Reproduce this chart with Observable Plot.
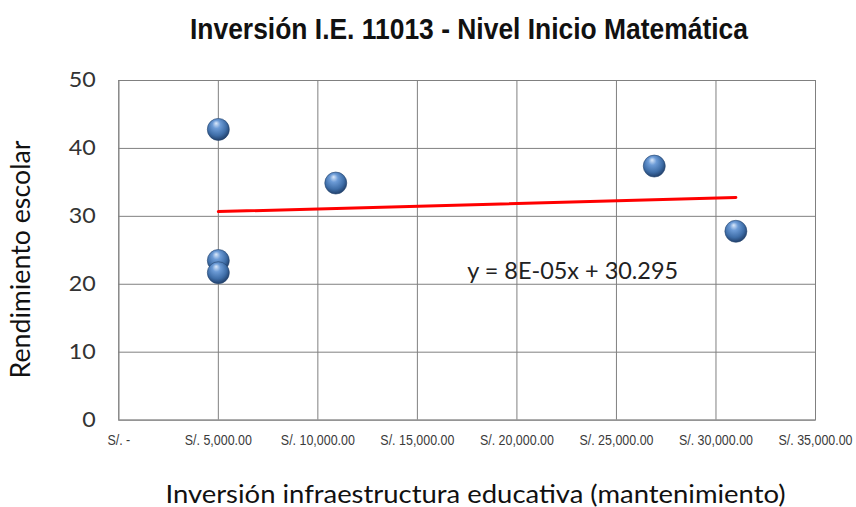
<!DOCTYPE html>
<html>
<head>
<meta charset="utf-8">
<script src="https://cdn.jsdelivr.net/npm/d3@7"></script>
<script src="https://cdn.jsdelivr.net/npm/@observablehq/plot@0.6"></script>
<style>
  body { margin: 0; background: #ffffff; }
  #wrap { width: 856px; height: 507px; position: relative; overflow: hidden; background: #fff; }
  #title { height: 62px; width: 856px; position: relative; }
  #title span {
    position: absolute; left: 469px; top: 13px;
    font-family: "Liberation Sans Narrow", "Liberation Sans", Arial, sans-serif;
    font-weight: bold; font-size: 30px; line-height: 32px;
    color: #111; white-space: nowrap; transform-origin: 0 0;
  }
  svg { display: block; }
</style>
</head>
<body>
<div id="wrap">
  <div id="title"><span id="titleText"></span></div>
  <div id="chart"></div>
</div>
<script>
// ---- data ----
const inversion = [5000, 5000, 5000, 10900, 26900, 31000];
const rendimiento = [42.8, 23.5, 21.7, 34.9, 37.4, 27.8];
const xTicks = [0, 5000, 10000, 15000, 20000, 25000, 30000, 35000];
const xTickLabels = ["S/. -", "S/. 5,000.00", "S/. 10,000.00", "S/. 15,000.00", "S/. 20,000.00", "S/. 25,000.00", "S/. 30,000.00", "S/. 35,000.00"];
const yTicks = [0, 10, 20, 30, 40, 50];
const trendSlope = 8e-5;
const trendIntercept = 30.295;
const equationText = ["y = 8E-05x + 30.295"];
const equationPos = [22800, 21.9];
const titleText = "Inversión I.E. 11013 - Nivel Inicio Matemática";
const xLabel = "Inversión infraestructura educativa (mantenimiento)";
const yLabel = "Rendimiento escolar";

// ---- derived tables ----
const points = inversion.map((x, i) => ({x, y: rendimiento[i]}));
const xMin = d3.min(inversion), xMax = d3.max(inversion);
const trend = [xMin, xMax].map(x => ({x, y: trendSlope * x + trendIntercept}));
const equation = equationText.map(t => ({x: equationPos[0], y: equationPos[1], t}));

const calibri = "Lato, 'Open Sans', sans-serif";
const narrow = "'Liberation Sans Narrow', 'Liberation Sans', Arial, sans-serif";

const svg = Plot.plot({
  width: 856,
  height: 445,
  marginTop: 18,
  marginBottom: 87.4,
  marginLeft: 118.3,
  marginRight: 41,
  style: {background: "#fff", overflow: "visible"},
  x: {domain: [0, 35000]},
  y: {domain: [0, 50]},
  marks: [
    Plot.gridX(xTicks, {stroke: "#808080", strokeOpacity: 1, strokeWidth: 1}),
    Plot.gridY(yTicks, {stroke: "#808080", strokeOpacity: 1, strokeWidth: 1}),
    Plot.frame({stroke: "#808080", strokeWidth: 1}),
    Plot.axisX(xTicks, {
      tickSize: 0, tickPadding: 14,
      tickFormat: d => xTickLabels[xTicks.indexOf(d)],
      fontFamily: narrow, fontSize: 15, fill: "#3a3a3a", label: null
    }),
    Plot.axisY(yTicks, {
      tickSize: 0, tickPadding: 23,
      fontFamily: calibri, fontSize: 21, fill: "#333", label: null
    }),
    Plot.line(trend, {x: "x", y: "y", stroke: "#ff0000", strokeWidth: 3}),
    Plot.dot(points, {x: "x", y: "y", r: 11, fill: "url(#ball)", stroke: "#25446f", strokeWidth: 0.6}),
    Plot.text(equation, {x: "x", y: "y", text: "t", fontFamily: calibri, fontSize: 23, fill: "#222", textAnchor: "middle", lineAnchor: "middle"}),
    Plot.text([yLabel], {frameAnchor: "left", rotate: -90, textAnchor: "middle", lineAnchor: "middle", dx: -96.8, dy: 9.2, fontFamily: calibri, fontSize: 26, fill: "#111"}),
    Plot.text([xLabel], {frameAnchor: "bottom", textAnchor: "middle", lineAnchor: "middle", dx: 8.3, dy: 74.5, fontFamily: calibri, fontSize: 25, fill: "#111"})
  ]
});

// radial gradient for spheres
const defs = d3.select(svg).insert("defs", ":first-child");
const g = defs.append("radialGradient").attr("id", "ball")
  .attr("cx", "45%").attr("cy", "40%").attr("r", "62%").attr("fx", "40%").attr("fy", "22%");
g.append("stop").attr("offset", "0%").attr("stop-color", "#dbe9fb");
g.append("stop").attr("offset", "30%").attr("stop-color", "#6c9bd6");
g.append("stop").attr("offset", "70%").attr("stop-color", "#3f6ea8");
g.append("stop").attr("offset", "100%").attr("stop-color", "#1e3c66");

document.getElementById("chart").appendChild(svg);

// condense texts horizontally like the reference (Excel-rendered, squeezed)
function fit(el, len) {
  el.setAttribute("textLength", len);
  el.setAttribute("lengthAdjust", "spacingAndGlyphs");
}
d3.select(svg).selectAll("text").each(function () {
  const t = this.textContent;
  if (xTickLabels.includes(t)) fit(this, this.getComputedTextLength() * 0.83);
  else if (yTicks.map(String).includes(t)) fit(this, 13.5 * t.length);
  else if (t === equationText[0]) fit(this, 211);
  else if (t === xLabel) fit(this, 620);
  else if (t === yLabel) fit(this, 238);
});

// title fitted to ~558px, centered at x≈469
const tspan = document.getElementById("titleText");
tspan.textContent = titleText;
const w = tspan.getBoundingClientRect().width;
const target = 558;
tspan.style.transform = `translateX(${-target / 2}px) scaleX(${target / w})`;
</script>
</body>
</html>
